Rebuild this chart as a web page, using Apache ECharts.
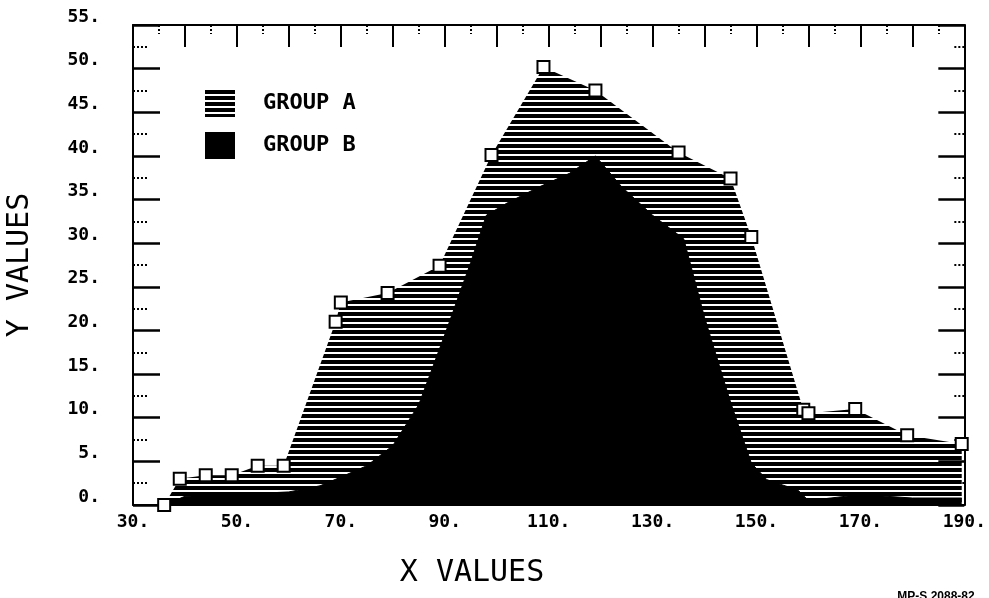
<!DOCTYPE html>
<html>
<head>
<meta charset="utf-8">
<script src="https://cdn.jsdelivr.net/npm/echarts@6/dist/echarts.min.js"></script>
<style>
  html, body { margin: 0; padding: 0; background: #fff; }
  #chart { width: 989px; height: 598px; }
</style>
</head>
<body>
<div id="chart"></div>
<script>
// group A (hatched area), read at the square markers
const xA = [36, 39, 44, 49, 54, 59, 69, 70, 79, 89, 99, 109, 119, 135, 145, 149, 159, 160, 169, 179, 189.5];
const yA = [0, 3, 3.4, 3.4, 4.5, 4.5, 21, 23.2, 24.3, 27.4, 40.1, 50.2, 47.5, 40.4, 37.4, 30.7, 10.9, 10.5, 11, 8, 7];

// group B (solid black area)
const xB = [36, 40, 50, 60, 66, 70, 75, 80, 85, 90, 95, 98, 102, 108, 114, 119, 124, 130, 134, 136, 140, 145, 149, 152, 158, 160, 170, 180, 189.5];
const yB = [0, 1, 1.2, 1.5, 2.2, 3.2, 4.5, 6.8, 11.5, 19.5, 27.8, 33.2, 34.6, 36.4, 38, 40, 36.5, 33.2, 31.4, 30.5, 21.5, 11.8, 4.8, 2.9, 1.7, 0.5, 1.2, 0.8, 0.8];

const xRange = [30, 190];
const yRange = [0, 55];
const legendNames = ['GROUP A', 'GROUP B'];

const mono = '"DejaVu Sans Mono", monospace';

// horizontal line hatching for group A
function hatch() {
  const c = document.createElement('canvas');
  c.width = 8;
  c.height = 6;
  const g = c.getContext('2d');
  g.fillStyle = '#000';
  g.fillRect(0, 0, 8, 4);
  return c;
}
const hatchFill = { image: hatch(), repeat: 'repeat' };

const zip = (xs, ys) => xs.map((x, i) => [x, ys[i]]);
const dotLabel = (v) => v + '.';
const border = { show: true, onZero: false, lineStyle: { color: '#000', width: 2 } };

const chart = echarts.init(document.getElementById('chart'));

const option = {
  animation: false,
  backgroundColor: '#fff',
  grid: { left: 133, right: 22, top: 25, bottom: 93 },
  legend: {
    orient: 'vertical',
    left: 200,
    top: 85,
    itemWidth: 30,
    itemHeight: 27,
    itemGap: 15,
    selectedMode: false,
    textStyle: {
      fontFamily: mono,
      fontWeight: 'bold',
      fontSize: 22,
      color: '#000',
      padding: [0, 0, 0, 23]
    },
    data: [
      { name: legendNames[0], icon: 'rect', itemStyle: { color: hatchFill, borderWidth: 0 } },
      { name: legendNames[1], icon: 'rect', itemStyle: { color: '#000', borderWidth: 0 } }
    ]
  },
  xAxis: [
    {
      type: 'value',
      position: 'bottom',
      min: xRange[0],
      max: xRange[1],
      interval: 20,
      axisLine: border,
      axisTick: { show: false },
      splitLine: { show: false },
      axisLabel: {
        color: '#000',
        fontFamily: mono,
        fontWeight: 'bold',
        fontSize: 18,
        margin: 8,
        formatter: dotLabel
      }
    },
    {
      type: 'value',
      position: 'top',
      min: xRange[0],
      max: xRange[1],
      interval: 10,
      axisLine: border,
      axisTick: { show: true, inside: true, length: 22, lineStyle: { color: '#000', width: 2 } },
      minorTick: { show: true, splitNumber: 2, length: 9, lineStyle: { color: '#000', width: 2, type: 'dotted' } },
      splitLine: { show: false },
      axisLabel: { show: false }
    }
  ],
  yAxis: [
    {
      type: 'value',
      position: 'left',
      min: yRange[0],
      max: yRange[1],
      interval: 5,
      axisLine: border,
      axisTick: { show: true, inside: true, length: 27, lineStyle: { color: '#000', width: 2.5 } },
      minorTick: { show: true, splitNumber: 2, length: 14, lineStyle: { color: '#000', width: 2, type: 'dotted' } },
      splitLine: { show: false },
      axisLabel: {
        color: '#000',
        fontFamily: mono,
        fontWeight: 'bold',
        fontSize: 18,
        margin: 33,
        verticalAlign: 'bottom',
        lineHeight: 16,
        formatter: dotLabel
      }
    },
    {
      type: 'value',
      position: 'right',
      min: yRange[0],
      max: yRange[1],
      interval: 5,
      axisLine: border,
      axisTick: { show: true, inside: true, length: 26, lineStyle: { color: '#000', width: 2.5 } },
      minorTick: { show: true, splitNumber: 2, length: 12, lineStyle: { color: '#000', width: 2, type: 'dotted' } },
      splitLine: { show: false },
      axisLabel: { show: false }
    }
  ],
  series: [
    {
      name: legendNames[0],
      type: 'line',
      data: zip(xA, yA),
      showSymbol: false,
      lineStyle: { width: 0 },
      areaStyle: { color: hatchFill, opacity: 1 },
      z: 1,
      silent: true
    },
    {
      name: legendNames[1],
      type: 'line',
      data: zip(xB, yB),
      showSymbol: false,
      lineStyle: { width: 1, color: '#000' },
      areaStyle: { color: '#000', opacity: 1 },
      z: 2,
      silent: true
    },
    {
      name: legendNames[0],
      type: 'scatter',
      data: zip(xA, yA),
      symbol: 'rect',
      symbolSize: 12,
      itemStyle: { color: '#fff', borderColor: '#000', borderWidth: 2, opacity: 1 },
      z: 3,
      silent: true
    }
  ],
  graphic: [
    {
      type: 'text',
      x: 472,
      y: 573,
      style: { text: 'X VALUES', font: '30px ' + mono, fill: '#000', align: 'center', verticalAlign: 'middle' }
    },
    {
      type: 'text',
      x: 20,
      y: 265,
      rotation: Math.PI / 2,
      style: { text: 'Y VALUES', font: '30px ' + mono, fill: '#000', align: 'center', verticalAlign: 'middle' }
    },
    {
      type: 'text',
      x: 936,
      y: 591,
      style: { text: 'MP-S 2088-82', font: 'bold 12px "Liberation Sans", sans-serif', fill: '#000', align: 'center', verticalAlign: 'top' }
    }
  ]
};

chart.setOption(option);
</script>
</body>
</html>
